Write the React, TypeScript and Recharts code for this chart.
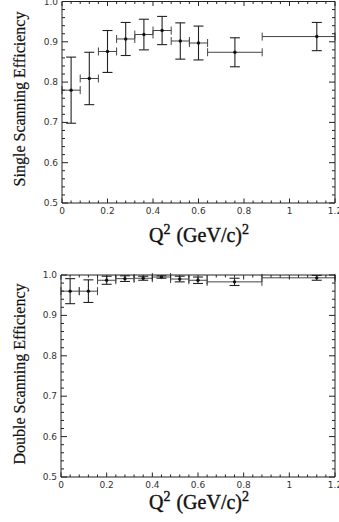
import React from 'react';
import { ScatterChart, Scatter, ErrorBar, XAxis, YAxis } from 'recharts';

// Q^2 bins (GeV/c)^2 : point position and bin edges
const q2 = [0.04, 0.12, 0.2, 0.28, 0.36, 0.44, 0.52, 0.6, 0.76, 1.12];
const binLow = [0, 0.08, 0.16, 0.24, 0.32, 0.4, 0.48, 0.56, 0.64, 0.88];
const binHigh = [0.08, 0.16, 0.24, 0.32, 0.4, 0.48, 0.56, 0.64, 0.88, 1.2];

const singleEff = [0.78, 0.809, 0.876, 0.907, 0.918, 0.928, 0.902, 0.897, 0.874, 0.913];
const singleErr = [0.082, 0.065, 0.052, 0.041, 0.038, 0.035, 0.045, 0.042, 0.036, 0.035];

const doubleEff = [0.96, 0.96, 0.987, 0.991, 0.992, 0.995, 0.99, 0.987, 0.983, 0.993];
const doubleErr = [0.031, 0.028, 0.01, 0.007, 0.005, 0.003, 0.007, 0.008, 0.009, 0.006];

const xTickLabels = ['0', '0.2', '0.4', '0.6', '0.8', '1', '1.2'];
const yTickLabels = ['0.5', '0.6', '0.7', '0.8', '0.9', '1.0'];

// minor ticks every 0.04 on x, 0.02 on y
const xTicks = Array.from({ length: 31 }, (_, i) => Math.round(i * 4) / 100);
const yTicks = Array.from({ length: 26 }, (_, i) => Math.round(50 + i * 2) / 100);

const ink = '#222';
const tickFont = '"DejaVu Sans", sans-serif';
const titleFont = '"Liberation Serif", "DejaVu Serif", serif';

const buildRows = (eff: number[], err: number[]) =>
  q2.map((q, i) => ({
    q2: q,
    xErr: [q - binLow[i], binHigh[i] - q],
    eff: eff[i],
    err: err[i],
  }));

const isMajor = (v: number, step: number) => Math.abs(v / step - Math.round(v / step)) < 1e-6;

const XTick = (props: any) => {
  const { x, y, payload, side } = props;
  const v = payload.value;
  const major = isMajor(v, 0.2);
  const len = major ? 4.5 : 2.5;
  const dir = side === 'bottom' ? -1 : 1;
  return (
    <g>
      <line x1={x} x2={x} y1={y} y2={y + dir * len} stroke={ink} strokeWidth={1} />
      {side === 'bottom' && major && (
        <text x={x} y={y + 8} textAnchor="middle" dominantBaseline="central"
          fontFamily={tickFont} fontSize={9} fill="#333">
          {xTickLabels[Math.round(v / 0.2)]}
        </text>
      )}
    </g>
  );
};

const YTick = (props: any) => {
  const { x, y, payload, side } = props;
  const v = payload.value;
  const major = isMajor(v, 0.1);
  const len = major ? 6 : 3;
  const dir = side === 'left' ? 1 : -1;
  return (
    <g>
      <line x1={x} x2={x + dir * len} y1={y} y2={y} stroke={ink} strokeWidth={1} />
      {side === 'left' && major && (
        <text x={x - 4} y={y} textAnchor="end" dominantBaseline="central"
          fontFamily={tickFont} fontSize={9} fill="#333">
          {yTickLabels[Math.round((v - 0.5) / 0.1)]}
        </text>
      )}
    </g>
  );
};

const Dot = (props: any) => <circle cx={props.cx} cy={props.cy} r={1.7} fill="#111" />;

const EffPanel = ({ rows, margin }: { rows: any[]; margin: any }) => (
  <ScatterChart width={339} height={261} margin={margin}>
    <XAxis xAxisId="b" type="number" dataKey="q2" domain={[0, 1.2]} ticks={xTicks} interval={0}
      allowDataOverflow height={1} tickSize={0} tickMargin={0} tickLine={false}
      axisLine={{ stroke: ink }} tick={(p: any) => <XTick {...p} side="bottom" />} />
    <XAxis xAxisId="t" orientation="top" type="number" dataKey="q2" domain={[0, 1.2]} ticks={xTicks}
      interval={0} allowDataOverflow height={1} tickSize={0} tickMargin={0} tickLine={false}
      axisLine={{ stroke: ink }} tick={(p: any) => <XTick {...p} side="top" />} />
    <YAxis yAxisId="l" type="number" dataKey="eff" domain={[0.5, 1.0]} ticks={yTicks} interval={0}
      allowDataOverflow width={1} tickSize={0} tickMargin={0} tickLine={false}
      axisLine={{ stroke: ink }} tick={(p: any) => <YTick {...p} side="left" />} />
    <YAxis yAxisId="r" orientation="right" type="number" dataKey="eff" domain={[0.5, 1.0]} ticks={yTicks}
      interval={0} allowDataOverflow width={1} tickSize={0} tickMargin={0} tickLine={false}
      axisLine={{ stroke: ink }} tick={(p: any) => <YTick {...p} side="right" />} />
    <Scatter data={rows} xAxisId="b" yAxisId="l" shape={<Dot />} isAnimationActive={false}>
      <ErrorBar dataKey="err" direction="y" width={5} stroke="#222" strokeWidth={1.1}
        isAnimationActive={false} />
      <ErrorBar dataKey="xErr" direction="x" width={4} stroke="#444" strokeWidth={1}
        isAnimationActive={false} />
    </Scatter>
  </ScatterChart>
);

const XTitle = ({ y }: { y: number }) => (
  <text x={199} y={y} textAnchor="middle" fontFamily={titleFont} fontSize={20} fill="#111"
    stroke="#111" strokeWidth={0.4}>
    Q<tspan dy={-8} fontSize={14}>2</tspan>
    <tspan dy={8} dx={6}>(GeV/c)</tspan>
    <tspan dy={-8} fontSize={14}>2</tspan>
  </text>
);

const YTitle = ({ cy, text }: { cy: number; text: string }) => (
  <text transform={`translate(25, ${cy}) rotate(-90)`} textAnchor="middle"
    fontFamily={titleFont} fontSize={16} fill="#111" stroke="#111" strokeWidth={0.2}>
    {text}
  </text>
);

export default function App() {
  const singleRows = buildRows(singleEff, singleErr);
  const doubleRows = buildRows(doubleEff, doubleErr);
  return (
    <div style={{ position: 'absolute', left: 0, top: 0, width: 339, height: 522, background: '#fff', overflow: 'hidden' }}>
      <div style={{ position: 'absolute', left: 0, top: 0 }}>
        <EffPanel rows={singleRows} margin={{ top: 0.5, right: 3, bottom: 57, left: 61 }} />
      </div>
      <div style={{ position: 'absolute', left: 0, top: 261 }}>
        <EffPanel rows={doubleRows} margin={{ top: 13, right: 3, bottom: 44, left: 60 }} />
      </div>
      <svg width={339} height={522} style={{ position: 'absolute', left: 0, top: 0, pointerEvents: 'none' }}>
        <XTitle y={242} />
        <YTitle cy={99} text="Single Scanning Efficiency" />
        <XTitle y={509} />
        <YTitle cy={374} text="Double Scanning Efficiency" />
      </svg>
    </div>
  );
}
